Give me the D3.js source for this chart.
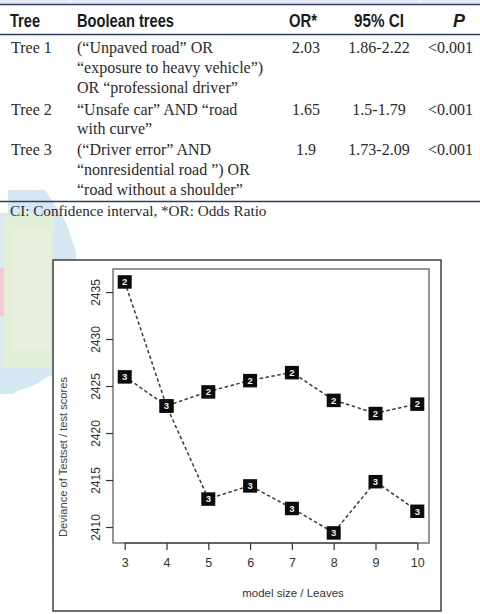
<!DOCTYPE html>
<html>
<head>
<meta charset="utf-8">
<script src="https://cdn.jsdelivr.net/npm/d3@7"></script>
<style>
html,body{margin:0;padding:0;background:#fff;}
svg{display:block;}
</style>
</head>
<body>
<svg id="c" width="480" height="614"></svg>
<script>
// ---------- data ----------
const headers = ["Tree", "Boolean trees", "OR*", "95% CI", "P"];
const treeIds = ["Tree 1", "Tree 2", "Tree 3"];
const booleanTrees = [
  ["(\u201cUnpaved road\u201d OR", "\u201cexposure to heavy vehicle\u201d)", "OR \u201cprofessional driver\u201d"],
  ["\u201cUnsafe car\u201d AND \u201croad", "with curve\u201d"],
  ["(\u201cDriver error\u201d AND", "\u201cnonresidential road \u201d) OR", "\u201croad without a shoulder\u201d"]
];
const orValues = ["2.03", "1.65", "1.9"];
const ciValues = ["1.86-2.22", "1.5-1.79", "1.73-2.09"];
const pValues = ["<0.001", "<0.001", "<0.001"];
const footnote = "CI: Confidence interval, *OR: Odds Ratio";

const modelSizes = [3, 4, 5, 6, 7, 8, 9, 10];
const series2 = [2436.1, 2422.9, 2424.4, 2425.6, 2426.45, 2423.5, 2422.1, 2423.1];
const series3 = [2426.0, 2422.9, 2413.0, 2414.4, 2412.0, 2409.4, 2414.85, 2411.7];
const seriesLabels = ["2", "3"];
const yTicks = [2410, 2415, 2420, 2425, 2430, 2435];
const xTitle = "model size / Leaves";
const yTitle = "Deviance of Testset / test scores";

// ---------- drawing ----------
const svg = d3.select("#c");
const serif = "'Liberation Serif','Times New Roman',serif";
const sans = "'Liberation Sans',Arial,Helvetica,sans-serif";

// background decoration (scanned artefact at the left)
const deco = svg.append("g");
deco.append("polygon").attr("points","8,190 45,190 55,205 62,215 68,228 72,240 76,252 76,262 53,262 53,215 8,215").attr("fill","#d6e7f4");
deco.append("rect").attr("x",4).attr("y",213).attr("width",50).attr("height",155).attr("fill","#e3eed8");
deco.append("rect").attr("x",12).attr("y",230).attr("width",38).attr("height",120).attr("fill","#e8f1de");
deco.append("rect").attr("x",0).attr("y",268).attr("width",4).attr("height",48).attr("fill","#f6c8d8");
deco.append("polygon").attr("points","0,368 53,368 53,375 45,378 38,383 30,387 20,390 12,394 0,394").attr("fill","#d6e7f4");
deco.append("rect").attr("x",0).attr("y",213).attr("width",4).attr("height",55).attr("fill","#dde9f2");
deco.append("rect").attr("x",0).attr("y",316).attr("width",4).attr("height",52).attr("fill","#dde9f2");

// ---------- table ----------
const tbl = svg.append("g");
tbl.append("rect").attr("x",0).attr("y",0).attr("width",480).attr("height",4).attr("fill","#e6e9f1");
[70, 272, 336, 420].forEach(x => tbl.append("line").attr("x1",x).attr("x2",x).attr("y1",0).attr("y2",4).attr("stroke","#f7f8fb").attr("stroke-width",1));
const lineCol = "#2c3d6a";
[4.5, 34.5, 201.5].forEach(y => tbl.append("line").attr("x1",0).attr("x2",480).attr("y1",y).attr("y2",y).attr("stroke",lineCol).attr("stroke-width",1.4));

const colX = [11, 77, 306, 379, 428];
const headX = [10, 77, 289, 354, 453];
const headW = [30, 97, 28, 50, 12];
headers.forEach((h, i) => {
  tbl.append("text").attr("x", headX[i]).attr("y", 27)
    .attr("font-family", sans).attr("font-weight", "bold")
    .attr("font-style", i === 4 ? "italic" : "normal")
    .attr("font-size", 17.5).attr("fill", "#1b1b1b")
    .attr("textLength", headW[i]).attr("lengthAdjust", "spacingAndGlyphs").text(h);
});

const rowBase = [[53, 73, 93], [115, 134], [155, 175, 195]];
const txtCol = "#2a2a2a";
treeIds.forEach((t, r) => {
  const b = rowBase[r][0];
  const add = (x, y, s, anchor) => tbl.append("text").attr("x", x).attr("y", y)
    .attr("text-anchor", anchor).attr("font-family", serif).attr("font-size", 16)
    .attr("fill", txtCol).text(s);
  add(colX[0], b, t, "start");
  booleanTrees[r].forEach((ln, k) => add(colX[1], rowBase[r][k], ln, "start"));
  add(colX[2], b, orValues[r], "middle");
  add(colX[3], b, ciValues[r], "middle");
  add(colX[4], b, pValues[r], "start");
});
tbl.append("text").attr("x", 10).attr("y", 216).attr("font-family", serif).attr("font-size", 15.2)
  .attr("fill", txtCol).text(footnote);

// ---------- chart ----------
const frame = {x0: 53, y0: 260, x1: 441, y1: 611};
const box = {x0: 113, y0: 269, x1: 429, y1: 543};
svg.append("rect").attr("x", frame.x0).attr("y", frame.y0).attr("width", frame.x1 - frame.x0).attr("height", frame.y1 - frame.y0)
  .attr("fill", "#fff").attr("stroke", "#333").attr("stroke-width", 1.4);

const x = d3.scaleLinear().domain([2.72, 10.28]).range([box.x0, box.x1]);
const y = d3.scaleLinear().domain([2408.3, 2437.45]).range([box.y1, box.y0]);

const g = svg.append("g");
g.append("rect").attr("x", box.x0).attr("y", box.y0).attr("width", box.x1 - box.x0).attr("height", box.y1 - box.y0)
  .attr("fill", "none").attr("stroke", "#6f7576").attr("stroke-width", 1.5);

// x axis
const xAxis = d3.axisBottom(x).tickValues(modelSizes).tickSize(7).tickPadding(7).tickFormat(d3.format("d"));
const xg = g.append("g").attr("transform", `translate(0,${box.y1})`).call(xAxis);
xg.select(".domain").attr("d", `M${x(modelSizes[0])},0H${x(modelSizes[modelSizes.length-1])}`).attr("stroke","#333").attr("stroke-width",1.2);
xg.selectAll(".tick line").attr("stroke", "#333").attr("stroke-width", 1.2);
xg.selectAll(".tick text").attr("font-family", sans).attr("font-size", 12.5).attr("fill", "#333").attr("dy", "0.71em").attr("y", 15.5);

// y axis
const yAxis = d3.axisLeft(y).tickValues(yTicks).tickSize(7).tickFormat(d3.format("d"));
const yg = g.append("g").attr("transform", `translate(${box.x0},0)`).call(yAxis);
yg.select(".domain").remove();
yg.selectAll(".tick line").attr("stroke", "#333").attr("stroke-width", 1.2);
yg.selectAll(".tick text").attr("x", null).attr("dy", null)
  .attr("transform", "translate(-13,0) rotate(-90)")
  .attr("text-anchor", "middle").attr("font-family", sans).attr("font-size", 12).attr("fill", "#333");

// titles
g.append("text").attr("x", 293).attr("y", 597).attr("text-anchor", "middle")
  .attr("font-family", sans).attr("font-size", 11.5).attr("fill", "#333").text(xTitle);
g.append("text").attr("transform", "translate(67,457) rotate(-90)").attr("text-anchor", "middle")
  .attr("font-family", sans).attr("font-size", 11.5).attr("fill", "#444")
  .attr("textLength", 160).attr("lengthAdjust", "spacingAndGlyphs").text(yTitle);

// lines
const allSeries = [series2, series3];
const line = d3.line().x((d, i) => x(modelSizes[i])).y(d => y(d));
allSeries.forEach(s => {
  g.append("path").datum(s).attr("d", line).attr("fill", "none")
    .attr("stroke", "#3a3a3a").attr("stroke-width", 1.5).attr("stroke-dasharray", "3.5,2.5");
});
// markers
allSeries.forEach((s, k) => {
  const mg = g.append("g");
  s.forEach((v, i) => {
    const cx = x(modelSizes[i]), cy = y(v);
    mg.append("rect").attr("x", cx - 7).attr("y", cy - 6.5).attr("width", 14).attr("height", 13.5).attr("fill", "#0b0b0b");
    mg.append("text").attr("x", cx).attr("y", cy + 3.5).attr("text-anchor", "middle")
      .attr("font-family", sans).attr("font-weight", "bold").attr("font-size", 9.5).attr("fill", "#eee").text(seriesLabels[k]);
  });
});
</script>
</body>
</html>
